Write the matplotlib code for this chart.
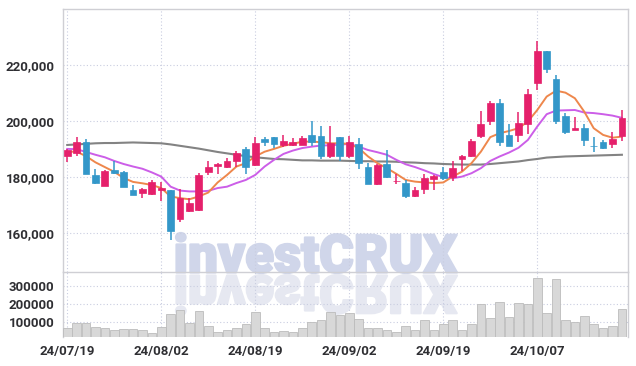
import numpy as np
import matplotlib
matplotlib.use("Agg")
import matplotlib.pyplot as plt
from matplotlib.textpath import TextPath
from matplotlib.font_manager import FontProperties
from matplotlib.patches import PathPatch
from matplotlib.transforms import Affine2D, IdentityTransform

# ---- data (KRW, 60 trading days) ----
OPEN = [187300, 188500, 192400, 180700, 176900, 182500, 181900, 175400, 174400, 173800,
        175300, 175400, 164900, 167900, 168000, 181700, 183900, 183500, 185800, 189900,
        184300, 193600, 194200, 191400, 191500, 191500, 195000, 194600, 187600, 194200,
        187600, 191800, 183600, 177500, 184600, 178400, 177900, 173000, 175800, 179400,
        181900, 180100, 186500, 187300, 194700, 200100, 206300, 195000, 195000, 198800,
        213500, 225000, 215000, 201800, 196900, 197600, 191200, 192500, 191800, 194750]
HIGH = [190000, 194400, 193500, 182700, 182600, 185500, 182000, 177100, 176200, 178800,
        178300, 175400, 175600, 172600, 181500, 185800, 185100, 186900, 189400, 190800,
        194200, 194400, 194200, 195000, 193800, 194600, 200100, 198200, 198200, 194300,
        194600, 193800, 185100, 184600, 189600, 181100, 178900, 176400, 181000, 180700,
        183500, 185800, 187900, 193500, 203600, 207100, 207700, 198800, 203300, 211300,
        228500, 225000, 216400, 202700, 201300, 198800, 194400, 193200, 196200, 203900]
LOW = [185400, 187300, 181000, 177400, 176900, 181100, 176300, 173500, 172400, 173500,
       171200, 157300, 164000, 167500, 167900, 180700, 181000, 183300, 183500, 181100,
       183900, 191100, 190300, 190500, 191100, 191300, 191200, 186400, 186900, 185800,
       186900, 182750, 177300, 177100, 179500, 177500, 172600, 172900, 173700, 175400,
       179000, 178700, 182000, 187000, 194000, 198600, 191100, 190900, 192400, 195200,
       211100, 217000, 198800, 195200, 196800, 191200, 189000, 189900, 190300, 192850]
CLOSE = [189600, 192400, 181000, 177800, 182100, 181500, 176300, 173500, 175600, 178000,
         176000, 160500, 172400, 170700, 180700, 183600, 184600, 185700, 188500, 183500,
         192100, 192300, 191800, 192900, 192600, 193900, 192400, 187600, 192100, 187600,
         192500, 185100, 177500, 184300, 180100, 178700, 173000, 175400, 179500, 180400,
         179500, 183300, 187600, 192700, 198900, 206300, 192300, 191200, 199200, 209500,
         225000, 218700, 200100, 196200, 197600, 193200, 190900, 190200, 193500, 200950]
VOLUME = [72000, 96000, 96000, 74000, 67000, 57000, 63000, 63000, 57000, 41000,
          74000, 146000, 167000, 98000, 163000, 78000, 46000, 57000, 67000, 89000,
          156000, 67000, 46000, 52000, 46000, 72000, 102000, 113000, 156000, 143000,
          152000, 117000, 72000, 72000, 61000, 50000, 78000, 61000, 111000, 61000,
          89000, 111000, 61000, 89000, 202000, 122000, 211000, 128000, 207000, 202000,
          344000, 150000, 339000, 111000, 104000, 133000, 89000, 72000, 83000, 172000]
MA_SHORT = [189000, 189000, 187400, 185200, 183500, 181800, 179600, 178200, 177700, 177100,
            176000, 173000, 172400, 172000, 173000, 174400, 178000, 180700, 183700, 184900,
            187300, 189000, 190000, 191100, 191800, 192600, 192600, 192400, 192000, 192000,
            191800, 190300, 187300, 184900, 183100, 181100, 178900, 178300, 178000, 177800,
            178000, 180100, 181900, 184900, 189000, 194200, 195600, 196400, 197400, 199800,
            203900, 208700, 210800, 210100, 208100, 203300, 197400, 195000, 194000, 194400]
MA_MID = [190000, 189900, 188900, 187900, 187000, 185700, 184600, 183700, 182900, 181600,
          180100, 176500, 175100, 174800, 174800, 175000, 176000, 176500, 177800, 178900,
          180700, 183700, 186100, 188200, 189400, 190300, 190800, 191200, 191300, 191500,
          191800, 190800, 189600, 188800, 187900, 186100, 184500, 183500, 182300, 181000,
          179900, 179500, 180100, 181300, 183100, 185700, 187300, 188700, 190400, 193200,
          198000, 202400, 203700, 203800, 203900, 203000, 202800, 202400, 201900, 201100]
MA_LONG = [191400, 191600, 191800, 192000, 192100, 192100, 192200, 192300, 192200, 192100,
           192000, 191600, 191100, 190600, 190100, 189500, 188900, 188400, 187900, 187400,
           187000, 186700, 186400, 186300, 186100, 185900, 185900, 185800, 185800, 185800,
           185700, 185600, 185600, 185500, 185500, 185400, 185200, 185100, 184900, 184800,
           184600, 184500, 184400, 184400, 184400, 184600, 184900, 185200, 185500, 186000,
           186400, 186900, 187100, 187300, 187400, 187500, 187600, 187700, 187800, 187900]
DATE_LABELS = ["24/07/19", "24/08/02", "24/08/19", "24/09/02", "24/09/19", "24/10/07"]
PRICE_TICKS = [160000, 180000, 200000, 220000]
VOL_TICKS = [100000, 200000, 300000]

UP, DOWN = "#e5206b", "#3397c9"
GRID = "#c9cde0"
FRAME = "#cfcfd4"
INK = "#2f2f33"
FONT = ["Roboto", "DejaVu Sans"]

W, H = 636, 366


def watermark(fig):
    tp = TextPath((0, 0), "investCRUX", size=100,
                  prop=FontProperties(family=["Roboto", "DejaVu Sans"], weight="black"))
    ext = tp.get_extents()
    x0, x1, base, top = 176, 457, H - 273, H - 233
    sx = (x1 - x0) / ext.width
    sy = (top - base) / ext.height
    main = Affine2D().translate(-ext.x0, -ext.y0).scale(sx, sy).translate(x0, base)
    mirr = Affine2D().translate(-ext.x0, -ext.y0).scale(sx, -sy).translate(x0, base - 2)
    for tr, col in ((main, "#d0d6ea"), (mirr, "#e6e8f1")):
        p = PathPatch(tr.transform_path(tp), transform=IdentityTransform(),
                      fc=col, ec=col, lw=1.6, joinstyle="round", zorder=-1)
        fig.add_artist(p)


def main():
    plt.rcParams["font.family"] = FONT
    o, h, l, c = map(np.asarray, (OPEN, HIGH, LOW, CLOSE))
    x = np.arange(len(c))
    up = c >= o
    cols = np.where(up, UP, DOWN)

    fig = plt.figure(figsize=(W / 100, H / 100), dpi=100)
    left, right = 63 / W, 628 / W
    ax = fig.add_axes([left, 1 - 272 / H, right - left, (272 - 9) / H])
    av = fig.add_axes([left, 1 - 337 / H, right - left, (337 - 272) / H], sharex=ax)
    watermark(fig)

    for a in (ax, av):
        a.set_facecolor("none")
        a.grid(True, color=GRID, lw=0.8, ls=(0, (1, 2)), zorder=0)
        a.tick_params(length=0, labelsize=9.5, colors=INK, pad=6)
        for s in a.spines.values():
            s.set_color(FRAME)
            s.set_linewidth(1.0)

    # candles
    ax.vlines(x, l, h, colors=cols, lw=1.1, zorder=3)
    body = np.maximum(np.abs(c - o), 300)
    ax.bar(x, body, bottom=np.minimum(o, c), width=0.72, color=cols,
           edgecolor=cols, lw=0.5, zorder=4)
    ax.plot(x, MA_LONG, color="#838383", lw=1.5, zorder=2)
    ax.plot(x, MA_MID, color="#cc5ee8", lw=1.4, zorder=2)
    ax.plot(x, MA_SHORT, color="#ee874c", lw=1.4, zorder=2)

    ax.set_xlim(-0.45, 59.65)
    ax.set_ylim(146000, 240000)
    ax.set_yticks(PRICE_TICKS)
    ax.set_yticklabels([f"{v:,}" for v in PRICE_TICKS])
    ax.set_xticks(x[::10])
    ax.tick_params(axis="x", labelbottom=False)

    # volume
    av.bar(x, VOLUME, width=0.92, color="#d8d8d8", edgecolor="#bcbcbc", lw=0.6, zorder=3)
    av.set_ylim(20000, 377000)
    av.set_yticks(VOL_TICKS)
    av.set_yticklabels([str(v) for v in VOL_TICKS])
    av.set_xticks(x[::10])
    av.set_xticklabels(DATE_LABELS)
    av.spines["bottom"].set_visible(False)
    av.spines["top"].set_visible(False)
    for a in (ax, av):
        for lbl in a.get_xticklabels() + a.get_yticklabels():
            lbl.set_fontweight("bold")

    fig.savefig("out.png", dpi=100)
    plt.close(fig)


if __name__ == "__main__":
    main()
